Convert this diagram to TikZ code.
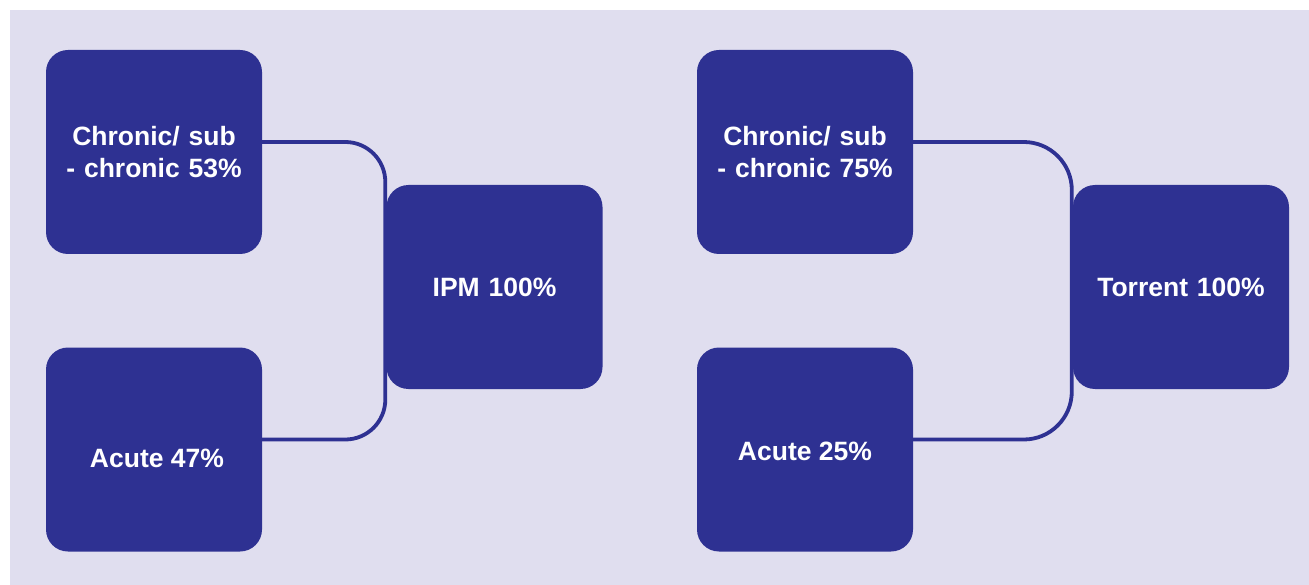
\documentclass[tikz,border=0pt]{standalone}
\usepackage{fontspec}
\setmainfont{Liberation Sans}
\definecolor{panel}{HTML}{E0DEEF}
\definecolor{navy}{HTML}{2E3192}
\tikzset{
  boxtext/.style={text=white, align=center,
    font=\fontsize{26.5}{32}\selectfont\bfseries},
  box/.style={fill=navy, draw=none, rounded corners=22pt,
    minimum width=216pt, minimum height=204pt, inner sep=0pt,
    text width=200pt, boxtext},
  conn/.style={draw=navy, line width=3.8pt},
}
\begin{document}
\begin{tikzpicture}[x=1pt, y=-1pt]
  \useasboundingbox (0,0) rectangle (1309,585);
  \fill[panel] (10,10) rectangle (1309,585);

  % left group
  \node[box] (tl) at (154,152) {Chronic/ sub\\- chronic 53\%};
  \node[box, label={[boxtext, xshift=3pt, yshift=-9pt]center:Acute 47\%}] (bl) at (154,449.5) {};
  \node[box] (ipm) at (494.5,287) {IPM 100\%};

  % right group
  \node[box] (tr) at (805,152) {Chronic/ sub\\- chronic 75\%};
  \node[box, label={[boxtext, yshift=-2pt]center:Acute 25\%}] (br) at (805,449.5) {};
  \node[box] (tor) at (1181,287) {Torrent 100\%};

  % bracket connectors
  \coordinate (a1) at ([yshift=10pt]tl.east);
  \coordinate (a2) at ([yshift=10pt]bl.east);
  \draw[conn, rounded corners=40pt] (a1) -| ([xshift=-1pt]ipm.west |- a2) -- (a2);

  \coordinate (b1) at ([yshift=10pt]tr.east);
  \coordinate (b2) at ([yshift=10pt]br.east);
  \draw[conn, rounded corners=48pt] (b1) -| ([xshift=-1pt]tor.west |- b2) -- (b2);
\end{tikzpicture}
\end{document}
